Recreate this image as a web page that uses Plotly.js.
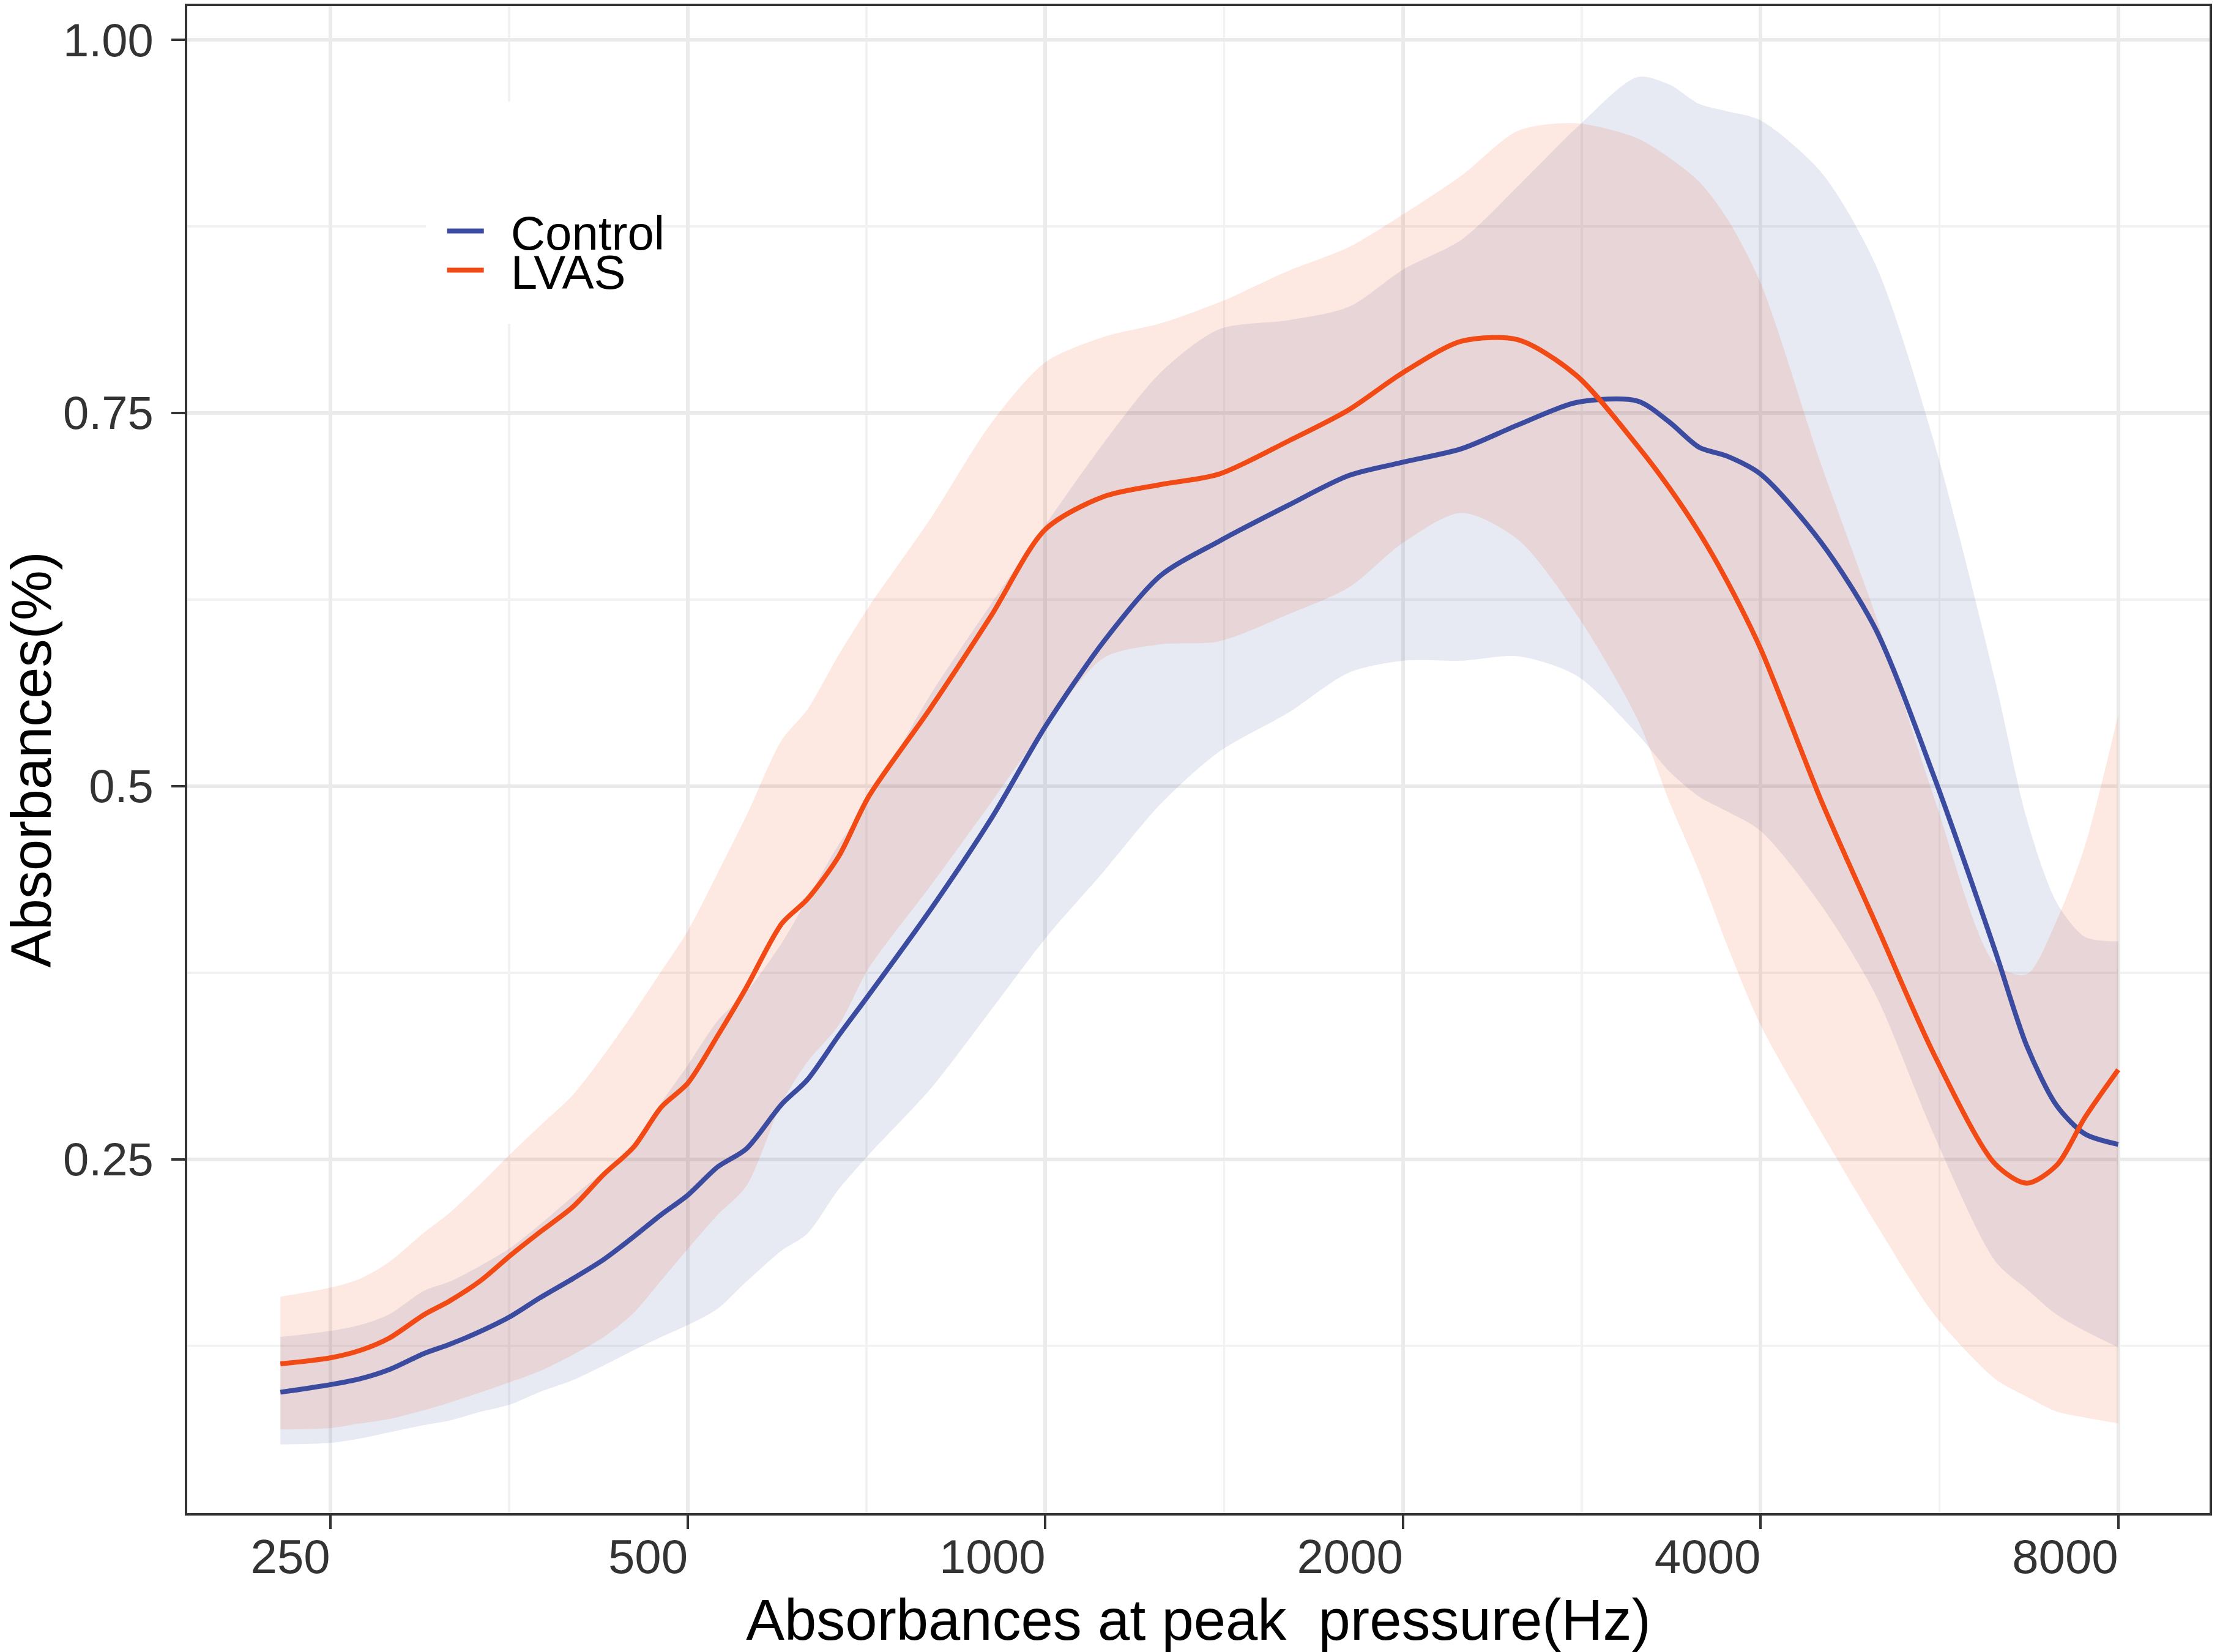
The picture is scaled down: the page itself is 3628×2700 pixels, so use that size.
<!DOCTYPE html>
<html>
<head>
<meta charset="utf-8">
<script src="https://cdn.plot.ly/plotly-3.0.1.min.js"></script>
<style>
html,body{margin:0;padding:0;background:#ffffff;}
#chart{width:3628px;height:2700px;}
</style>
</head>
<body>
<div id="chart"></div>
<script>
// Frequencies (Hz)
const freqHz = [227,250,265,280,300,315,335,355,375,400,425,450,475,500,530,560,600,630,670,710,800,900,1000,1120,1250,1400,1600,1800,2000,2240,2500,2800,3150,3350,3550,3750,4000,4500,5000,5600,6300,6700,7100,7500,8000];

// Control group: mean and ribbon
const controlMean  = [.094,.099,.103,.109,.120,.126,.135,.145,.157,.170,.183,.198,.213,.226,.245,.257,.287,.303,.333,.360,.417,.478,.540,.597,.641,.664,.688,.708,.717,.726,.742,.757,.758,.744,.727,.721,.709,.663,.605,.506,.390,.326,.286,.267,.260];
const controlUpper = [.131,.135,.139,.146,.162,.168,.179,.191,.206,.225,.242,.258,.288,.313,.343,.362,.395,.424,.461,.490,.561,.622,.675,.730,.777,.806,.812,.821,.846,.866,.902,.941,.975,.970,.957,.952,.946,.911,.849,.730,.571,.478,.422,.399,.396];
const controlLower = [.059,.060,.063,.067,.072,.075,.081,.086,.094,.102,.112,.122,.131,.139,.150,.168,.189,.200,.230,.253,.297,.350,.398,.443,.488,.523,.549,.576,.584,.584,.587,.574,.535,.510,.493,.483,.470,.420,.360,.266,.182,.163,.146,.135,.124];

// LVAS group: mean and ribbon
const lvasMean  = [.113,.117,.122,.130,.146,.155,.169,.186,.201,.218,.240,.258,.285,.301,.333,.365,.408,.424,.453,.493,.552,.614,.672,.694,.702,.709,.731,.752,.777,.798,.799,.775,.728,.700,.670,.637,.592,.490,.408,.320,.247,.234,.246,.278,.310];
const lvasUpper = [.158,.164,.170,.181,.201,.214,.234,.254,.272,.293,.320,.348,.376,.403,.442,.480,.531,.551,.588,.620,.679,.743,.784,.801,.810,.824,.845,.861,.883,.909,.939,.944,.934,.921,.905,.880,.837,.715,.614,.492,.381,.374,.410,.460,.548];
const lvasLower = [.069,.070,.073,.076,.082,.087,.094,.101,.108,.119,.131,.147,.169,.190,.213,.232,.288,.315,.340,.378,.433,.489,.540,.586,.595,.597,.615,.633,.663,.683,.665,.615,.545,.490,.443,.393,.340,.268,.207,.146,.103,.091,.081,.077,.073];

// Axis ticks
const xTickVals = [250,500,1000,2000,4000,8000];
const xTickText = ['250','500','1000','2000','4000','8000'];
const yTickVals = [0.25,0.5,0.75,1.0];
const yTickText = ['0.25','0.5','0.75','1.00'];

const xMinorVals = xTickVals.slice(0,-1).map((v,i)=>Math.sqrt(v*xTickVals[i+1]));
const yMinorVals = [0.125,0.375,0.625,0.875];

const colControl = '#3B4CA0';
const colLvas = '#F24A14';
const fillControl = 'rgba(59,76,160,0.12)';
const fillLvas = 'rgba(242,74,20,0.12)';

const sp = {shape:'spline', smoothing:0.8};

function ribbonPair(upper, lower, fill){
  return [
    {x:freqHz, y:upper, type:'scatter', mode:'lines',
     line:Object.assign({width:0, color:'rgba(0,0,0,0)'}, sp),
     hoverinfo:'skip', showlegend:false},
    {x:freqHz, y:lower, type:'scatter', mode:'lines', fill:'tonexty', fillcolor:fill,
     line:Object.assign({width:0, color:'rgba(0,0,0,0)'}, sp),
     hoverinfo:'skip', showlegend:false}
  ];
}

const traces = [].concat(
  ribbonPair(controlUpper, controlLower, fillControl),
  ribbonPair(lvasUpper, lvasLower, fillLvas),
  [
    {x:freqHz, y:controlMean, type:'scatter', mode:'lines', name:'\u2002Control',
     line:Object.assign({color:colControl, width:8}, sp), legend:'legend2'},
    {x:freqHz, y:lvasMean, type:'scatter', mode:'lines', name:'\u2002LVAS',
     line:Object.assign({color:colLvas, width:8}, sp), legend:'legend'}
  ]
);

const font = 'Liberation Sans, Arial, Helvetica, sans-serif';

// right-align tick labels to their tick: 4-digit labels get one trailing figure space, all shifted left
const xTickTextPadded = xTickText.map(t => t.length > 3 ? t + '\u2007' : t);

const layout = {
  width:3628, height:2700,
  margin:{l:306, r:17, t:10, b:227},
  paper_bgcolor:'#ffffff', plot_bgcolor:'#ffffff',
  font:{family:font, color:'#000000'},
  showlegend:true,
  xaxis:{
    type:'log',
    range:[Math.log10(189.5), Math.log10(9550)],
    tickmode:'array', tickvals:xTickVals, ticktext:xTickTextPadded,
    ticklabelshift:-65,
    ticks:'outside', ticklen:22, tickwidth:4, tickcolor:'#333333',
    tickfont:{family:font, size:78, color:'#333333'},
    ticklabelstandoff:-22,
    showgrid:true, gridcolor:'#EBEBEB', gridwidth:6,
    minor:{tickmode:'array', tickvals:xMinorVals, showgrid:true, gridcolor:'#F2F2F2', gridwidth:3.5, ticks:''},
    showline:true, mirror:true, linecolor:'#333333', linewidth:4,
    zeroline:false,
    title:{text:'Absorbances at peak\u00A0 pressure(Hz)', font:{family:font, size:94, color:'#000000'}, standoff:30}
  },
  yaxis:{
    range:[0.013, 1.0225],
    tickmode:'array', tickvals:yTickVals, ticktext:yTickText,
    ticks:'outside', ticklen:22, tickwidth:4, tickcolor:'#333333',
    tickfont:{family:font, size:76, color:'#333333'},
    ticklabelstandoff:14,
    showgrid:true, gridcolor:'#EBEBEB', gridwidth:6,
    minor:{tickmode:'array', tickvals:yMinorVals, showgrid:true, gridcolor:'#F2F2F2', gridwidth:3.5, ticks:''},
    showline:true, mirror:true, linecolor:'#333333', linewidth:4,
    zeroline:false,
    title:{text:'Absorbances(%)', font:{family:font, size:92, color:'#000000'}, standoff:30}
  },
  // LVAS legend (drawn first) carries the white legend box
  legend:{
    x:0.1179, y:0.9367, xanchor:'left', yanchor:'top',
    bgcolor:'#ffffff', bordercolor:'#ffffff', borderwidth:30,
    title:{text:'\u00A0', font:{family:font, size:145, color:'#ffffff'}},
    font:{family:font, size:78, color:'#000000'},
    itemwidth:60
  },
  // Control legend drawn on top, transparent
  legend2:{
    x:0.127, y:0.874, xanchor:'left', yanchor:'top',
    bgcolor:'rgba(255,255,255,0)', borderwidth:0,
    font:{family:font, size:78, color:'#000000'},
    itemwidth:60
  }
};

Plotly.newPlot('chart', traces, layout, {displayModeBar:false, staticPlot:true});
</script>
</body>
</html>
